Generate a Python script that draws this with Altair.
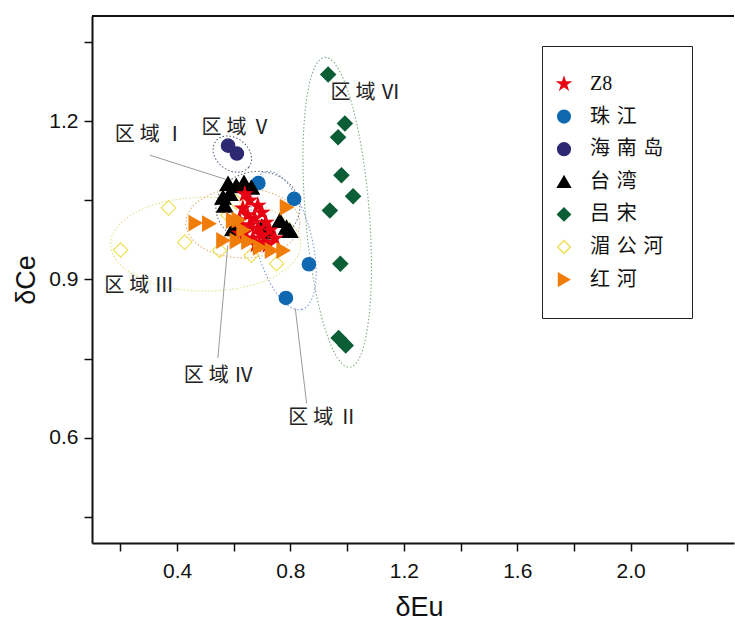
import altair as alt
import numpy as np
import pandas as pd

# ---------------- data ----------------
SERIES = ["Z8", "珠江", "海南岛", "台湾", "吕宋", "湄公河", "红河"]

z8_x = [0.639, 0.656, 0.685, 0.632, 0.699, 0.649, 0.674, 0.621, 0.713, 0.656,
        0.685, 0.639, 0.699, 0.727, 0.667, 0.706, 0.720, 0.678, 0.621, 0.745]
z8_y = [1.062, 1.050, 1.040, 1.035, 1.027, 1.022, 1.016, 1.012, 1.008, 1.003,
        0.997, 0.989, 0.984, 0.993, 0.978, 0.970, 0.965, 0.966, 0.987, 0.978]
zj_x = [0.687, 0.813, 0.865, 0.784]
zj_y = [1.083, 1.053, 0.929, 0.865]
hn_x = [0.580, 0.611]
hn_y = [1.154, 1.139]
tw_x = [0.580, 0.609, 0.636, 0.662, 0.562, 0.586, 0.568, 0.763, 0.786, 0.798, 0.727, 0.597, 0.699]
tw_y = [1.082, 1.078, 1.084, 1.075, 1.056, 1.063, 1.041, 1.012, 0.999, 0.993, 0.990, 0.996, 1.001]
lz_x = [0.933, 0.992, 0.968, 0.980, 1.021, 0.939, 0.976, 0.970, 0.995]
lz_y = [1.289, 1.196, 1.170, 1.098, 1.058, 1.031, 0.930, 0.789, 0.775]
mg_x = [0.370, 0.201, 0.427, 0.609, 0.580, 0.550, 0.662, 0.751]
mg_y = [1.036, 0.956, 0.971, 1.047, 1.022, 0.955, 0.946, 0.930]
hh_x = [0.465, 0.513, 0.563, 0.610, 0.617, 0.634, 0.651, 0.692, 0.734, 0.775, 0.787, 0.597]
hh_y = [1.007, 1.006, 0.974, 0.973, 1.013, 0.994, 0.972, 0.961, 0.955, 0.955, 1.037, 1.012]

# region ellipses: name, centre x, centre y, semi-axis A (dx, dy), semi-axis B (dx, dy)
ell_names = ["区域Ⅰ", "区域Ⅱ", "区域Ⅲ", "区域Ⅳ", "区域Ⅴ", "区域Ⅵ"]
ell_cx = [0.685, 0.776, 0.501, 0.632, 0.595, 0.965]
ell_cy = [1.037, 0.974, 0.967, 1.007, 1.138, 1.0275]
ell_ax = [0.148, 0.0635, 0.335, 0.201, 0.058, -0.044]
ell_ay = [0.0, -0.1308, 0.0, 0.0, -0.0248, 0.294]
ell_bx = [0.0, 0.0956, 0.0, 0.0, -0.0353, 0.1125]
ell_by = [0.068, 0.0134, 0.089, 0.066, -0.0237, 0.0049]

# region labels
lab_names = ["区域Ⅰ", "区域Ⅴ", "区域Ⅵ", "区域Ⅲ", "区域Ⅳ", "区域Ⅱ"]
lab_x = [0.304, 0.610, 1.065, 0.267, 0.547, 0.916]
lab_y = [1.175, 1.188, 1.253, 0.888, 0.716, 0.637]

# leader lines (label -> region)
lead_x = [0.304, 0.544, 0.857]
lead_y = [1.136, 0.751, 0.665]
lead_x2 = [0.572, 0.579, 0.817]
lead_y2 = [1.090, 0.965, 0.845]

x_ticks = [0.2, 0.4, 0.6, 0.8, 1.0, 1.2, 1.4, 1.6, 1.8, 2.0, 2.2]
y_ticks = [0.45, 0.6, 0.75, 0.9, 1.05, 1.2, 1.35]

# ---------------- styles ----------------
STAR = ("M0,-1L0.2245,-0.309L0.951,-0.309L0.3633,0.118L0.588,0.809L0,0.382"
        "L-0.588,0.809L-0.3633,0.118L-0.951,-0.309L-0.2245,-0.309Z")
fills = ["#e60012", "#0f68b0", "#2d2872", "#000000", "#0b5e35", "transparent", "#f07d0a"]
strokes = ["#e60012", "#0f68b0", "#2d2872", "#000000", "#0b5e35", "#ece05c", "#f07d0a"]
shapes = [STAR, "circle", "circle", "triangle-up", "diamond", "diamond", "triangle-right"]
sizes = [220, 180, 180, 250, 220, 210, 220]
ell_colors = ["#707070", "#7f9bd6", "#e6df8a", "#e3b27a", "#5a5f78", "#82ab82"]

W, H = 642, 527
XDOM = [0.1, 0.1 + W / 283.5]
YDOM = [0.4, 1.4]

# ---------------- tables ----------------
draw_order = ["吕宋", "珠江", "海南岛", "湄公河", "台湾", "Z8", "红河"]
series_data = {
    "Z8": (z8_x, z8_y), "珠江": (zj_x, zj_y), "海南岛": (hn_x, hn_y), "台湾": (tw_x, tw_y),
    "吕宋": (lz_x, lz_y), "湄公河": (mg_x, mg_y), "红河": (hh_x, hh_y),
}

t = np.linspace(0, 2 * np.pi, 181)
erows = []
for n, cx, cy, ax, ay, bx, by in zip(ell_names, ell_cx, ell_cy, ell_ax, ell_ay, ell_bx, ell_by):
    xs = cx + ax * np.cos(t) + bx * np.sin(t)
    ys = cy + ay * np.cos(t) + by * np.sin(t)
    for i, (a, b) in enumerate(zip(xs, ys)):
        erows.append({"x": float(a), "y": float(b), "region": n, "i": i})
ell_df = pd.DataFrame(erows)

lab_df = pd.DataFrame({"x": lab_x, "y": lab_y, "name": lab_names})
lead_df = pd.DataFrame({"x": lead_x, "y": lead_y, "x2": lead_x2, "y2": lead_y2})

# ---------------- axes ----------------
AX_COL = "#111111"
xaxis = alt.Axis(
    values=x_ticks,
    labelExpr="(round(datum.value*10) % 4 == 0) ? format(datum.value, '.1f') : ''",
    labelFont="Liberation Sans", labelFontSize=21, labelColor=AX_COL, labelPadding=9,
    labelOverlap=False, labelFlush=False,
    tickSize=8, tickWidth=1.5, tickColor=AX_COL,
    domainColor=AX_COL, domainWidth=2, grid=False,
    titleFont="Liberation Sans", titleFontSize=27, titleFontWeight="normal", titleColor=AX_COL,
    titleX=327, titleY=72, titleAlign="center", titleBaseline="alphabetic",
)
yaxis = alt.Axis(
    values=y_ticks,
    labelExpr="(round(datum.value*100) % 30 == 0) ? format(datum.value, '.1f') : ''",
    labelFont="Liberation Sans", labelFontSize=21, labelColor=AX_COL, labelPadding=6,
    labelOverlap=False, labelFlush=False,
    tickSize=8, tickWidth=1.5, tickColor=AX_COL,
    domainColor=AX_COL, domainWidth=2, grid=False,
    titleFont="Liberation Sans", titleFontSize=27, titleFontWeight="normal", titleColor=AX_COL,
    titleX=-58, titleY=263.5, titleAngle=270, titleAlign="center", titleBaseline="alphabetic",
)


def X():
    return alt.X("x:Q", scale=alt.Scale(domain=XDOM, nice=False, zero=False), axis=xaxis, title="δEu")


def Y():
    return alt.Y("y:Q", scale=alt.Scale(domain=YDOM, nice=False, zero=False), axis=yaxis, title="δCe")


legend = alt.Legend(
    title=None,
    orient="none", legendX=450, legendY=30, direction="vertical",
    padding=28, strokeColor="#222222", fillColor="white",
    labelFont="'Liberation Serif', 'Noto Sans CJK SC', serif", labelFontSize=20, labelColor="#111111",
    labelOffset=16, symbolOffset=-16, rowPadding=12.6, symbolSize=160, symbolStrokeWidth=1.5,
    labelExpr="(datum.label == 'Z8' ? 'Z8' : join(split(datum.label, ''), '\u2004')) + '\u2004'",
)

# ---------------- layers ----------------
ell = alt.Chart(ell_df).mark_line(strokeDash=[1.5, 2], strokeWidth=1.1, clip=True).encode(
    x=X(), y=Y(), detail="region:N", order="i:Q",
    color=alt.Color("region:N", scale=alt.Scale(domain=ell_names, range=ell_colors), legend=None),
)

lead = alt.Chart(lead_df).mark_rule(color="#9a9a9a", strokeWidth=1).encode(
    x=X(), y=Y(), x2="x2:Q", y2="y2:Q"
)

point_layers = []
for s in draw_order:
    xs, ys = series_data[s]
    df = pd.DataFrame({"x": xs, "y": ys, "series": s})
    point_layers.append(
        alt.Chart(df).mark_point(
            filled=True, opacity=1, fillOpacity=1, strokeWidth=1.2, size=sizes[SERIES.index(s)]
        ).encode(
            x=X(), y=Y(),
            fill=alt.Fill("series:N", scale=alt.Scale(domain=SERIES, range=fills), legend=legend),
            stroke=alt.Stroke("series:N", scale=alt.Scale(domain=SERIES, range=strokes), legend=legend),
            shape=alt.Shape("series:N", scale=alt.Scale(domain=SERIES, range=shapes), legend=legend),
        )
    )

txt = alt.Chart(lab_df).transform_calculate(
    lbl="join(split(datum.name, ''), '\u2005')"
).mark_text(font="Noto Sans CJK SC", fontSize=20, color="#222222", align="center", baseline="middle").encode(
    x=X(), y=Y(), text="lbl:N"
)

border = alt.Chart(pd.DataFrame({"k": [0]})).mark_rule(color=AX_COL, strokeWidth=2).encode(
    x=alt.value(0), x2=alt.value(W), y=alt.value(0)
)

chart = alt.layer(ell, lead, *point_layers, txt, border).properties(
    width=W, height=H,
    autosize=alt.AutoSizeParams(type="none"),
    padding={"left": 92, "top": 16, "right": 1, "bottom": 77},
    background="white",
).configure_view(stroke=None)

chart.save("out.html", embed_options={"renderer": "svg", "actions": False})
